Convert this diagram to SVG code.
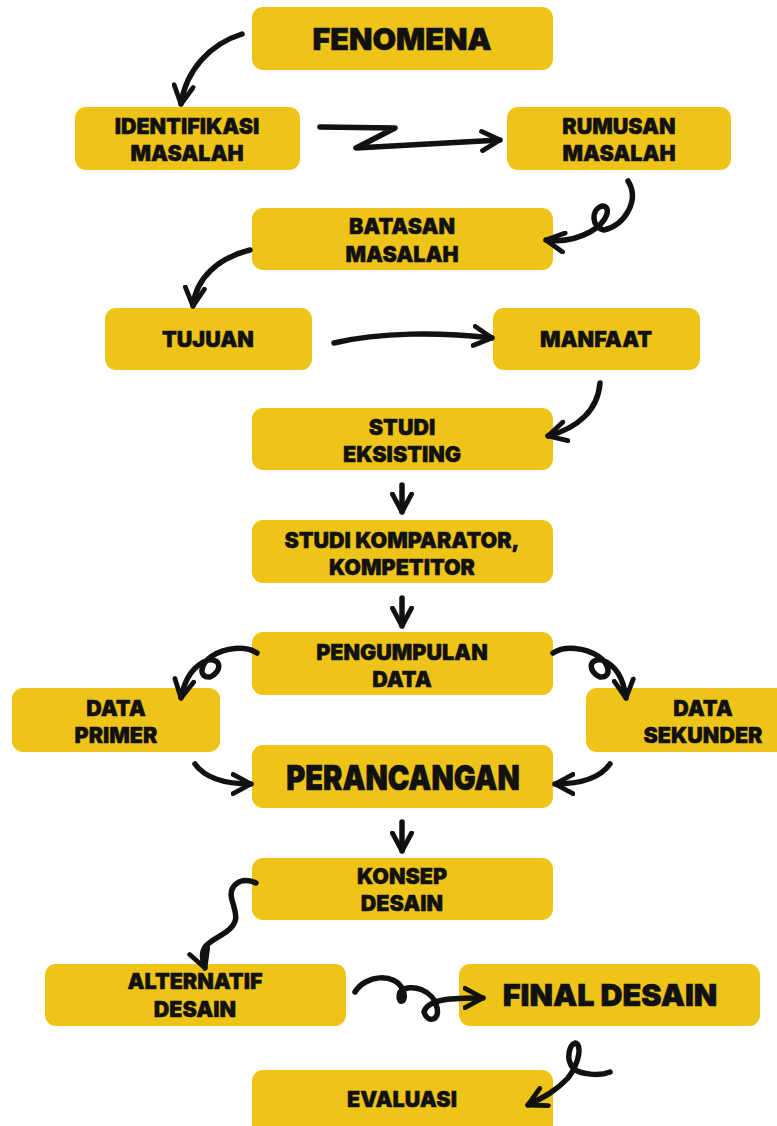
<svg xmlns="http://www.w3.org/2000/svg" width="777" height="1126" viewBox="0 0 777 1126">
<style>
.box{fill:#EFC419}
.t{font-family:Inter,"Liberation Sans",sans-serif;font-weight:900;fill:#111;stroke:#111;stroke-width:0.45;text-anchor:middle;font-size:21.5px}
.big{font-size:30.5px;stroke-width:0.6}
.c{fill:none;stroke:#111;stroke-width:5.5;stroke-linecap:round;stroke-linejoin:round}
</style>
<defs>
<marker id="ah" viewBox="0 0 20 20" refX="17" refY="10" markerWidth="24" markerHeight="24" orient="auto" markerUnits="userSpaceOnUse">
<path d="M2,2 L17,10 L2,18" fill="none" stroke="#111" stroke-width="4" stroke-linecap="round" stroke-linejoin="round"/>
</marker>
</defs>
<rect width="777" height="1126" fill="#fff"/>
<g id="fenomena"><rect class="box" x="252" y="7" width="301" height="63" rx="11"/><text class="t big" x="402" y="50">FENOMENA</text></g>
<g id="identifikasi"><rect class="box" x="75" y="107" width="225" height="63" rx="11"/><text class="t" x="187" y="134">IDENTIFIKASI</text><text class="t" x="187" y="161">MASALAH</text></g>
<g id="rumusan"><rect class="box" x="507" y="107" width="224" height="63" rx="11"/><text class="t" x="619" y="134">RUMUSAN</text><text class="t" x="619" y="161">MASALAH</text></g>
<g id="batasan"><rect class="box" x="252" y="208" width="301" height="62" rx="11"/><text class="t" x="402" y="234">BATASAN</text><text class="t" x="402" y="262">MASALAH</text></g>
<g id="tujuan"><rect class="box" x="105" y="308" width="207" height="62" rx="11"/><text class="t" x="208" y="347">TUJUAN</text></g>
<g id="manfaat"><rect class="box" x="493" y="308" width="207" height="62" rx="11"/><text class="t" x="596" y="347">MANFAAT</text></g>
<g id="studi-eksisting"><rect class="box" x="252" y="408" width="301" height="62" rx="11"/><text class="t" x="402" y="435">STUDI</text><text class="t" x="402" y="462">EKSISTING</text></g>
<g id="studi-komparator"><rect class="box" x="252" y="520" width="301" height="63" rx="11"/><text class="t" x="402" y="548">STUDI KOMPARATOR,</text><text class="t" x="402" y="575">KOMPETITOR</text></g>
<g id="pengumpulan"><rect class="box" x="252" y="632" width="301" height="63" rx="11"/><text class="t" x="402" y="660">PENGUMPULAN</text><text class="t" x="402" y="687">DATA</text></g>
<g id="data-primer"><rect class="box" x="12" y="688" width="208" height="64" rx="11"/><text class="t" x="116" y="716">DATA</text><text class="t" x="116" y="743">PRIMER</text></g>
<g id="data-sekunder"><rect class="box" x="586" y="688" width="205" height="64" rx="11"/><text class="t" x="703" y="716">DATA</text><text class="t" x="703" y="743">SEKUNDER</text></g>
<g id="perancangan"><rect class="box" x="252" y="745" width="301" height="63" rx="11"/><text class="t big" x="403" y="790" transform="translate(403 790) scale(0.95 1.12) translate(-403 -790)">PERANCANGAN</text></g>
<g id="konsep"><rect class="box" x="252" y="858" width="301" height="62" rx="11"/><text class="t" x="402" y="884">KONSEP</text><text class="t" x="402" y="911">DESAIN</text></g>
<g id="alternatif"><rect class="box" x="45" y="964" width="301" height="62" rx="11"/><text class="t" x="195" y="989">ALTERNATIF</text><text class="t" x="195" y="1017">DESAIN</text></g>
<g id="final"><rect class="box" x="459" y="964" width="301" height="62" rx="11"/><text class="t big" x="610" y="1006">FINAL DESAIN</text></g>
<g id="evaluasi"><rect class="box" x="252" y="1070" width="301" height="70" rx="11"/><text class="t" x="402" y="1107">EVALUASI</text></g>
<g id="connectors">
<path class="c" d="M242,34 C210,44 186,70 181,104" marker-end="url(#ah)" stroke-width="6.5"/>
<path class="c" d="M320,127 L395,128 L356,148 L500,140" marker-end="url(#ah)" stroke-width="8"/>
<path class="c" d="M628,181 C640,200 625,225 604,230 C592,228 590,210 602,206 C612,206 608,222 590,232 C575,240 560,242 546,240" marker-end="url(#ah)"/>
<path class="c" d="M250,250 C218,258 196,278 193,306" marker-end="url(#ah)"/>
<path class="c" d="M334,343 C380,332 440,332 492,338" marker-end="url(#ah)" stroke-width="6.5"/>
<path class="c" d="M600,383 C598,410 578,428 548,436" marker-end="url(#ah)"/>
<path class="c" d="M402,485 L402,512" marker-end="url(#ah)" stroke-width="4"/>
<path class="c" d="M402,598 L402,626" marker-end="url(#ah)" stroke-width="4"/>
<path class="c" d="M402,822 L402,851" marker-end="url(#ah)" stroke-width="4"/>
<path class="c" d="M257,653 C245,645 225,648 212,656 C200,664 198,678 210,677 C222,672 222,658 208,660 C192,666 184,682 181,698" marker-end="url(#ah)"/>
<path class="c" d="M553,653 C565,645 585,648 598,656 C610,664 612,678 600,677 C588,672 588,658 602,660 C618,666 624,682 626,698" marker-end="url(#ah)"/>
<path class="c" d="M195,764 C205,778 225,784 251,784" marker-end="url(#ah)"/>
<path class="c" d="M610,764 C600,778 580,784 555,784" marker-end="url(#ah)"/>
<path class="c" d="M256,883 C240,876 228,886 232,900 C236,914 240,922 226,932 C212,942 196,944 205,968" marker-end="url(#ah)" stroke-width="6.5"/>
<path class="c" d="M355,992 C365,975 395,972 403,990 C408,1004 396,1005 400,992 C410,982 434,990 437,1008 C440,1020 428,1024 424,1012 C428,998 455,998 483,998" marker-end="url(#ah)"/>
<path class="c" d="M610,1072 C600,1076 580,1075 573,1068 C565,1058 570,1045 575,1043 C582,1044 580,1062 568,1078 C555,1092 542,1098 528,1105" marker-end="url(#ah)"/>
</g>
</svg>
